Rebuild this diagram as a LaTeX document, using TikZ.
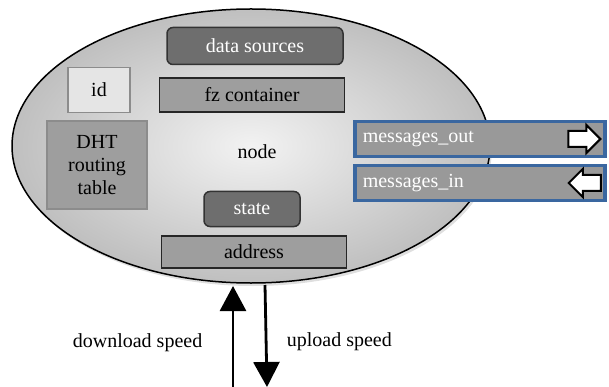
\documentclass[tikz,border=0pt]{standalone}
\usepackage{fontspec}
\setmainfont{Liberation Serif}
\usetikzlibrary{arrows.meta, positioning, shapes.geometric, shapes.misc, shapes.arrows, shadows}
\definecolor{msgblue}{HTML}{3A67A0}

\begin{document}
\begin{tikzpicture}[
  x=1pt, y=-1pt,
  every node/.style={font=\fontsize{20}{23}\selectfont},
  darkbox/.style={draw=black!80, line width=1.5pt, rounded corners=6pt, fill=black!57, text=white, inner sep=0pt},
  midbox/.style={draw=black!85, line width=1.8pt, fill=black!38, inner sep=0pt},
  greybox/.style={draw=black!45, line width=1.5pt, inner sep=0pt, align=center},
  msgbox/.style={chamfered rectangle, chamfered rectangle corners={north east, south west}, chamfered rectangle xsep=5pt, chamfered rectangle ysep=5pt, draw=msgblue, line width=3.5pt, fill=black!40, minimum width=250pt, minimum height=35pt, inner sep=0pt},
  msgicon/.style={single arrow, draw=black, line width=2pt, fill=white, minimum height=32pt, inner xsep=0pt, inner ysep=7pt, single arrow head extend=6pt},
  speed/.style={-{Triangle[width=26pt,length=25pt]}, line width=2.8pt}
]
  \useasboundingbox (0,0) rectangle (609,387);

  \node[ellipse, draw, line width=1.5pt, minimum width=478pt, minimum height=274pt, inner color=black!5, outer color=black!25, drop shadow={opacity=0.25, shadow xshift=2pt, shadow yshift=-3pt}] (peer) at (251,146) {};

  \node[darkbox, minimum width=176pt, minimum height=37pt] (sources) at (255,46) {data sources};
  \node[midbox, minimum width=185pt, minimum height=34pt] (container) at (252,95) {fz container};
  \node[greybox, fill=black!10, minimum width=62pt, minimum height=45pt] (id) at (99,90) {id};
  \node[greybox, fill=black!38, minimum width=100pt, minimum height=88pt] (dht) at (97,165) {DHT\\routing\\table};
  \node (label) at (257,152) {node};
  \node[darkbox, minimum width=96pt, minimum height=35pt] (state) at (252,209) {state};
  \node[midbox, minimum width=185pt, minimum height=32pt] (address) at (254,252) {address};

  \node[msgbox] (msgout) at (480,139) {};
  \node[msgbox] (msgin) at (480,183) {};
  \node[text=white, right=6pt of msgout.west] (outtext) {messages\_out};
  \node[text=white, right=6pt of msgin.west] (intext) {messages\_in};
  \node[msgicon, left=5pt of msgout.east] (outicon) {};
  \node[msgicon, shape border rotate=180, left=5pt of msgin.east] (inicon) {};

  \coordinate (dltop) at (233,286);
  \coordinate (dlbot) at (233,387);
  \coordinate (ultop) at (265,285);
  \coordinate (ulbot) at (267,387);

  \draw[speed] (dlbot) -- node[pos=0.44, left=26pt] {download speed} (dltop);
  \draw[speed] (ultop) -- node[pos=0.56, right=16pt] {upload speed} (ulbot);
\end{tikzpicture}
\end{document}
